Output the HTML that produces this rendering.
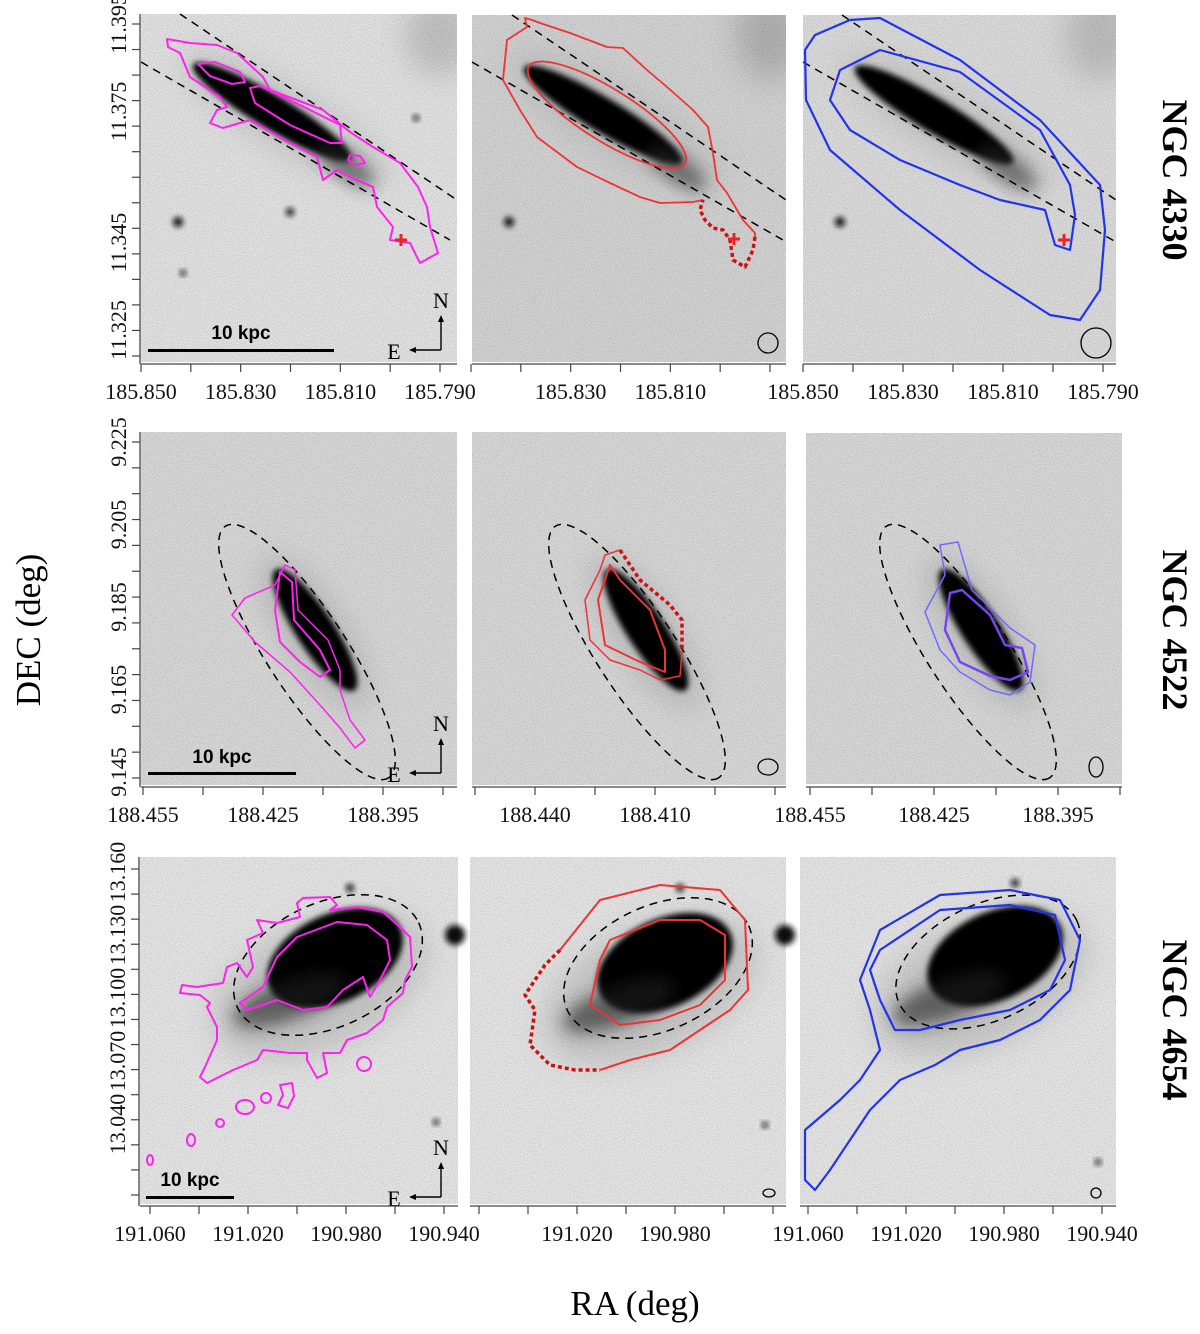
<!DOCTYPE html>
<html><head><meta charset="utf-8"><style>
html,body{margin:0;padding:0;background:#fff;}
svg{display:block;}
text{font-family:"Liberation Serif",serif;}
</style></head><body>
<svg id="fig" width="1200" height="1334" viewBox="0 0 1200 1334" xmlns="http://www.w3.org/2000/svg">
<defs>
<filter id="grain" x="0" y="0" width="100%" height="100%">
<feTurbulence type="fractalNoise" baseFrequency="0.9" numOctaves="1" seed="3" result="n"/>
<feColorMatrix type="matrix" values="0 0 0 0 0  0 0 0 0 0  0 0 0 0 0  0 0 0 -1.6 1.0" in="n" result="a"/>
<feComposite in="a" in2="SourceGraphic" operator="in"/>
</filter>
<filter id="blur3" x="-50%" y="-50%" width="200%" height="200%"><feGaussianBlur stdDeviation="3"/></filter>
<filter id="blur8" x="-50%" y="-50%" width="200%" height="200%"><feGaussianBlur stdDeviation="8"/></filter>
<filter id="blur15" x="-80%" y="-80%" width="260%" height="260%"><feGaussianBlur stdDeviation="15"/></filter>
<clipPath id="c1"><rect x="141" y="14" width="316" height="348"/></clipPath>
<clipPath id="c2"><rect x="472" y="15" width="314" height="347"/></clipPath>
<clipPath id="c3"><rect x="803" y="15" width="313" height="347"/></clipPath>
</defs>

<g>
 <rect x="141" y="14" width="316" height="348" fill="#e3e3e3"/>
 <rect x="472" y="15" width="314" height="347" fill="#d3d3d3"/>
 <rect x="803" y="15" width="313" height="347" fill="#dcdcdc"/>
</g>
<g>
 <rect x="141" y="432" width="316" height="353" fill="#d9d9d9"/>
 <rect x="472" y="432" width="314" height="353" fill="#d9d9d9"/>
 <rect x="806" y="433" width="316" height="351" fill="#d9d9d9"/>
</g>
<g>
 <rect x="140" y="857" width="318" height="347" fill="#e6e6e6"/>
 <rect x="470" y="857" width="316" height="347" fill="#e6e6e6"/>
 <rect x="800" y="857" width="316" height="347" fill="#e6e6e6"/>
</g>

<g opacity="0.45">
 <ellipse cx="440" cy="35" rx="35" ry="40" fill="#999" filter="url(#blur15)" clip-path="url(#c1)"/>
 <ellipse cx="770" cy="35" rx="35" ry="45" fill="#888" filter="url(#blur15)" clip-path="url(#c2)"/>
 <ellipse cx="1100" cy="35" rx="35" ry="45" fill="#999" filter="url(#blur15)" clip-path="url(#c3)"/>
</g>

<g id="galaxies"></g>

<g filter="url(#grain)" opacity="0.2">
 <rect x="141" y="14" width="316" height="348" fill="#000"/><rect x="472" y="15" width="314" height="347" fill="#000"/><rect x="803" y="15" width="313" height="347" fill="#000"/>
 <rect x="141" y="432" width="316" height="353" fill="#000"/><rect x="472" y="432" width="314" height="353" fill="#000"/><rect x="806" y="433" width="316" height="351" fill="#000"/>
 <rect x="140" y="857" width="318" height="347" fill="#000"/><rect x="470" y="857" width="316" height="347" fill="#000"/><rect x="800" y="857" width="316" height="347" fill="#000"/>
</g>

<g fill="none" stroke-linejoin="round">
 <g stroke="#000" stroke-width="1.5" stroke-dasharray="8,6">
  <line x1="180" y1="14" x2="457" y2="200"/><line x1="141" y1="62" x2="450" y2="240"/>
  <line x1="512" y1="15" x2="786" y2="200"/><line x1="472" y1="62" x2="783" y2="240"/>
  <line x1="842" y1="15" x2="1116" y2="200"/><line x1="803" y1="62" x2="1116" y2="242"/>
 </g>
 <path stroke="#ff22ee" stroke-width="2" d="M167,39 L190,43 L217,45 L237,53 L263,77 L270,90 L297,100 L323,110 L350,132 L373,147 L400,163 L418,187 L427,207 L430,227 L438,253 L420,263 L410,243 L390,240 L393,227 L377,207 L373,187 L350,177 L337,170 L323,180 L317,157 L290,143 L250,120 L223,128 L210,123 L217,110 L227,107 L220,97 L190,77 L180,53 L168,47 Z"/>
 <path stroke="#ff22ee" stroke-width="2" d="M198,64 L215,62 L240,72 L245,82 L232,84 L210,76 Z M250,88 L260,86 L300,105 L340,125 L342,143 L330,143 L290,125 L255,103 Z M350,155 L360,156 L365,163 L356,165 L348,160 Z"/>
 <path stroke="#ee3333" stroke-width="1.8" d="M703,200 L693,202 L660,203 L640,197 L610,183 L577,167 L537,137 L520,110 L503,80 L507,40 L527,27 L525,18 L532,20 L540,23 L570,33 L607,47 L623,48 L647,70 L667,87 L693,110 L708,127 L713,153 L717,180 L727,193 L743,220 L755,233 L755,237"/>
 <path stroke="#cc1111" stroke-width="3.5" stroke-dasharray="4,3" d="M755,237 L753,250 L745,267 L733,260 L730,240 L723,230 L713,228 L705,220 L700,210 L703,200"/>
 <ellipse cx="607" cy="115" rx="92" ry="26" transform="rotate(32 607 115)" stroke="#ee3333" stroke-width="1.8"/>
 <path stroke="#2233ee" stroke-width="2.2" d="M815,35 L850,20 L880,18 L960,60 L1040,120 L1100,185 L1105,230 L1100,290 L1080,320 L1050,315 L980,270 L900,210 L830,150 L806,100 L805,50 Z"/>
 <path stroke="#2233ee" stroke-width="2.2" d="M840,70 L880,50 L960,72 L1040,130 L1070,185 L1075,215 L1070,250 L1055,245 L1045,210 L1000,200 L960,185 L900,160 L850,130 L830,100 Z"/>
 <g stroke="#ee2222" stroke-width="3">
  <path d="M395,240 h12 M401,234 v12"/><path d="M728,239 h12 M734,233 v12"/><path d="M1058,240 h12 M1064,234 v12"/>
 </g>

 <g stroke="#000" stroke-width="1.5" stroke-dasharray="8,6">
  <ellipse cx="307" cy="652" rx="150" ry="40" transform="rotate(57 307 652)"/>
  <ellipse cx="637" cy="652" rx="150" ry="40" transform="rotate(57 637 652)"/>
  <ellipse cx="968" cy="652" rx="150" ry="40" transform="rotate(57 968 652)"/>
 </g>
 <path stroke="#ff22ee" stroke-width="1.5" d="M285,565 L295,570 L298,610 L328,640 L340,670 L340,690 L350,720 L365,740 L355,748 L340,728 L320,705 L290,672 L255,642 L232,615 L245,598 L275,585 Z"/>
 <path stroke="#ff22ee" stroke-width="2" d="M280,572 L292,582 L294,620 L320,650 L330,670 L320,677 L300,662 L280,642 L275,610 Z"/>
 <path stroke="#ee3333" stroke-width="1.5" d="M620,550 L605,555 L600,570 L585,600 L590,640 L610,660 L640,670 L660,680 L680,676 L682,652"/>
 <path stroke="#cc1111" stroke-width="3.5" stroke-dasharray="4,3" d="M620,550 L640,580 L670,605 L682,620 L682,652"/>
 <path stroke="#ee3333" stroke-width="2" d="M610,565 L620,580 L650,610 L665,650 L665,672 L640,662 L605,645 L598,600 Z"/>
 <path stroke="#7766ff" stroke-width="1.5" d="M940,545 L958,542 L972,590 L1010,628 L1035,645 L1030,682 L1010,695 L990,690 L960,672 L940,650 L925,612 L945,575 Z"/>
 <path stroke="#7744ee" stroke-width="2.5" d="M950,593 L962,590 L990,615 L1005,645 L1022,648 L1028,672 L1010,680 L990,676 L960,662 L945,630 Z"/>

 <g stroke="#000" stroke-width="1.5" stroke-dasharray="8,6">
  <ellipse cx="328" cy="965" rx="100" ry="62" transform="rotate(-25 328 965)"/>
  <ellipse cx="658" cy="968" rx="100" ry="62" transform="rotate(-25 658 968)"/>
  <ellipse cx="988" cy="962" rx="98" ry="58" transform="rotate(-25 988 962)"/>
 </g>
 <path stroke="#ff22ee" stroke-width="2" d="M303,898 L330,897 L337,905 L330,910 L357,907 L383,912 L400,927 L410,937 L412,967 L405,980 L403,993 L387,1007 L383,1020 L367,1033 L347,1040 L340,1053 L323,1053 L327,1073 L317,1078 L307,1060 L307,1053 L290,1053 L263,1050 L257,1060 L233,1070 L207,1083 L200,1077 L205,1067 L217,1040 L217,1027 L207,1007 L210,1003 L200,995 L180,993 L182,985 L197,987 L223,983 L227,967 L237,963 L247,977 L253,967 L247,940 L263,933 L257,920 L277,923 L300,917 L297,903 Z"/>
 <path stroke="#ff22ee" stroke-width="2" d="M240,1003 L263,987 L277,957 L297,937 L337,922 L367,925 L387,940 L390,960 L380,980 L370,997 L363,977 L343,990 L327,1007 L303,1010 L277,1000 L257,1007 L247,1010 Z"/>
 <g stroke="#ff22ee" stroke-width="2">
  <circle cx="364" cy="1064" r="7"/><ellipse cx="245" cy="1107" rx="9" ry="7"/><ellipse cx="266" cy="1098" rx="5" ry="5"/><path d="M280,1085 L292,1083 L294,1096 L288,1108 L278,1105 L283,1095 Z"/><ellipse cx="220" cy="1123" rx="4" ry="4"/><ellipse cx="191" cy="1140" rx="4" ry="6"/><ellipse cx="150" cy="1160" rx="3" ry="5"/>
 </g>
 <path stroke="#ee3333" stroke-width="2" d="M560,950 L600,900 L660,885 L720,890 L745,920 L748,990 L730,1010 L700,1030 L670,1050 L630,1060 L600,1070"/>
 <path stroke="#cc1111" stroke-width="3.5" stroke-dasharray="4,3" d="M560,950 L545,965 L525,995 L535,1010 L530,1045 L550,1065 L575,1070 L600,1070"/>
 <path stroke="#ee3333" stroke-width="2" d="M610,940 L660,920 L700,920 L725,935 L725,980 L700,1005 L660,1020 L620,1025 L590,1005 L600,960 Z"/>
 <path stroke="#2233ee" stroke-width="2.2" d="M880,930 L940,895 L1010,890 L1060,900 L1080,940 L1070,990 L1040,1020 L1000,1040 L960,1050 L935,1065 L900,1080 L870,1110 L850,1140 L830,1170 L815,1190 L805,1180 L805,1130 L840,1100 L860,1080 L880,1050 L870,1010 L860,980 Z"/>
 <path stroke="#2233ee" stroke-width="2.2" d="M880,950 L940,910 L1010,905 L1055,915 L1065,960 L1050,990 L1010,1010 L960,1020 L920,1030 L895,1030 L880,1000 L870,970 Z"/>
</g>

<g fill="none" stroke="#000" stroke-width="1.3">
 <circle cx="768" cy="343" r="10"/><circle cx="1096" cy="343" r="15"/>
 <ellipse cx="768" cy="767" rx="10" ry="8"/><ellipse cx="1096" cy="767" rx="7" ry="10"/>
 <ellipse cx="769" cy="1193" rx="6" ry="4"/><ellipse cx="1096" cy="1193" rx="5" ry="5"/>
</g>

<g>
 <rect x="148" y="349" width="186" height="3" fill="#000"/>
 <text x="241" y="339" font-weight="bold" font-size="19" text-anchor="middle" style="font-family:'Liberation Sans',sans-serif">10 kpc</text>
 <rect x="148" y="772" width="148" height="3" fill="#000"/>
 <text x="222" y="763" font-weight="bold" font-size="19" text-anchor="middle" style="font-family:'Liberation Sans',sans-serif">10 kpc</text>
 <rect x="146" y="1196" width="88" height="3" fill="#000"/>
 <text x="190" y="1186" font-weight="bold" font-size="19" text-anchor="middle" style="font-family:'Liberation Sans',sans-serif">10 kpc</text>
</g>
<g id="compasses"></g>

<g id="axes" stroke="#444"></g>

<text x="635" y="1315" font-size="35" text-anchor="middle">RA (deg)</text>
<text transform="translate(40 630) rotate(-90)" font-size="35" text-anchor="middle">DEC (deg)</text>
<text transform="translate(1163 180) rotate(90)" font-size="36" font-weight="bold" text-anchor="middle">NGC 4330</text>
<text transform="translate(1163 630) rotate(90)" font-size="36" font-weight="bold" text-anchor="middle">NGC 4522</text>
<text transform="translate(1163 1020) rotate(90)" font-size="36" font-weight="bold" text-anchor="middle">NGC 4654</text>
</svg>
<script>
const r1XLabels = ["185.850","185.830","185.810","185.790"];
const r1XValues = [185.850,185.830,185.810,185.790];
const r1YLabels = ["11.395","11.375","11.345","11.325"];
const r1YValues = [11.395,11.375,11.345,11.325];
const r2XValues = [188.455,188.425,188.395];
const r2XValuesMid = [188.440,188.410];
const r2YLabels = ["9.225","9.205","9.185","9.165","9.145"];
const r2YValues = [9.225,9.205,9.185,9.165,9.145];
const r3XValues = [191.060,191.020,190.980,190.940];
const r3XValuesMid = [191.020,190.980];
const r3YLabels = ["13.160","13.130","13.100","13.070","13.040"];
const r3YValues = [13.160,13.130,13.100,13.070,13.040];

const NS="http://www.w3.org/2000/svg";
const axes=document.getElementById('axes');
function mk(tag,attrs,parent){const e=document.createElementNS(NS,tag);for(const k in attrs)e.setAttribute(k,attrs[k]);(parent||axes).appendChild(e);return e;}
function lin(d0,d1,r0,r1){return v=>r0+(v-d0)/(d1-d0)*(r1-r0);}

const panels=[
 {x0:141,x1:457,yb:362,sx:lin(185.850,185.790,141,440),v0:185.850,v1:185.780,step:0.005,lab:r1XValues},
 {x0:472,x1:786,yb:362,sx:lin(185.850,185.790,471,770),v0:185.850,v1:185.785,step:0.005,lab:[185.830,185.810]},
 {x0:803,x1:1116,yb:362,sx:lin(185.850,185.790,803,1103),v0:185.850,v1:185.785,step:0.005,lab:r1XValues},
 {x0:141,x1:457,yb:785,sx:lin(188.455,188.395,143,383),v0:188.455,v1:188.3775,step:0.0075,lab:r2XValues},
 {x0:472,x1:786,yb:785,sx:lin(188.455,188.395,475,715),v0:188.455,v1:188.3775,step:0.0075,lab:r2XValuesMid},
 {x0:806,x1:1122,yb:785,sx:lin(188.455,188.395,810,1058),v0:188.455,v1:188.380,step:0.0075,lab:r2XValues},
 {x0:140,x1:458,yb:1204,sx:lin(191.060,190.940,150,444),v0:191.060,v1:190.935,step:0.01,lab:r3XValues},
 {x0:470,x1:786,yb:1204,sx:lin(191.060,190.940,479,773),v0:191.060,v1:190.940,step:0.01,lab:r3XValuesMid},
 {x0:800,x1:1116,yb:1204,sx:lin(191.060,190.940,808,1102),v0:191.060,v1:190.935,step:0.01,lab:r3XValues},
];
panels.forEach((p,i)=>{
 const ax=mk('line',{x1:p.x0,y1:p.yb+2,x2:p.x1,y2:p.yb+2,'stroke-width':1.3});
 
 
 const n=Math.round(Math.abs(p.v1-p.v0)/p.step);
 for(let k=0;k<=n;k++){
  const v=p.v0-k*p.step*2; const x=p.sx(v);
  if(x<p.x0-2||x>p.x1+1) continue;
  const t=mk('line',{x1:x,y1:p.yb+2,x2:x,y2:p.yb+10,'stroke-width':1.2});
  
  
 }
 p.lab.forEach(v=>{
  const x=p.sx(v);
  const t=mk('text',{x:x,y:p.yb+37,'font-size':22,'text-anchor':'middle',fill:'#111',stroke:'none'});
  t.textContent=v.toFixed(3);
  
  
 });
});

const yAx=[
 {x:140,y0:14,y1:362,sy:lin(11.395,11.325,24,330),tickStart:24,tickEnd:356,n:13,vals:r1YValues,labs:r1YLabels},
 {x:140,y0:432,y1:785,sy:lin(9.225,9.145,442,772),tickStart:442,tickEnd:778,n:13,vals:r2YValues,labs:r2YLabels},
 {x:139,y0:857,y1:1204,sy:lin(13.160,13.040,872,1124),tickStart:869,tickEnd:1195,n:13,vals:r3YValues,labs:r3YLabels},
];
yAx.forEach(a=>{
 const l=mk('line',{x1:a.x,y1:a.y0,x2:a.x,y2:a.y1+2,'stroke-width':1.3});
 
 
 for(let k=0;k<=a.n;k++){
  const y=a.tickStart+(a.tickEnd-a.tickStart)*k/a.n;
  const t=mk('line',{x1:a.x-8,y1:y,x2:a.x,y2:y,'stroke-width':1.2});
  
  
 }
 a.vals.forEach((v,i)=>{
  const y=a.sy(v);
  const t=mk('text',{transform:`translate(${a.x-14} ${y}) rotate(-90)`,'font-size':22,'text-anchor':'middle',fill:'#111',stroke:'none'});
  t.textContent=a.labs[i];
  
  
 });
});

const gal=document.getElementById('galaxies');
function blob(cx,cy,rx,ry,rot,fill,filt,op){
 const e=mk('ellipse',{cx:cx,cy:cy,rx:rx,ry:ry,transform:`rotate(${rot} ${cx} ${cy})`,fill:fill,filter:`url(#${filt})`,opacity:op},gal);
 
 
}
const r1=[[0,0],[331,3],[662,3]];
r1.forEach(([dx,dy])=>{
 blob(285+dx,118+dy,120,30,31,'#999','blur15',0.35);
 blob(272+dx,112+dy,92,17,31,'#000','blur3',1);
 blob(345+dx,165+dy,35,12,35,'#333','blur8',0.6);
});
[[0],[331],[666]].forEach(([dx])=>{
 blob(315+dx,632,90,30,57,'#888','blur15',0.35);
 blob(315+dx,630,72,19,57,'#000','blur3',1);
});
[[0,0],[330,5],[660,-2]].forEach(([dx,dy])=>{
 blob(320+dx,985+dy,115,62,-25,'#999','blur15',0.4);
 blob(335+dx,958+dy,72,44,-25,'#000','blur3',1);
 blob(290+dx,1000+dy,60,20,-20,'#222','blur8',0.6);
});
const stars=[[178,222,5],[290,212,4],[416,118,3],[183,273,3],[509,222,5],[840,222,5],[455,935,10],[785,935,10],[350,888,4],[680,888,4],[1015,883,4],[436,1122,3],[1098,1162,3],[765,1125,3]];
stars.forEach(s=>{
 const c=mk('circle',{cx:s[0],cy:s[1],r:s[2],fill:'#111',filter:'url(#blur3)'},gal);
 
 
});

const comp=document.getElementById('compasses');
[[441,350],[441,773],[441,1197]].forEach(([x,y])=>{
 const g=mk('g',{},comp);
 
 
 mk('path',{d:`M${x},${y} V${y-33} M${x},${y} H${x-30}`,stroke:'#000','stroke-width':1.4,fill:'none'},g);
 mk('path',{d:`M${x-3},${y-28} L${x},${y-35} L${x+3},${y-28} Z M${x-25},${y-3} L${x-32},${y} L${x-25},${y+3} Z`,fill:'#000'},g);
 const n=mk('text',{x:x,y:y-42,'font-size':22,'text-anchor':'middle'},g); n.textContent='N';
 const e=mk('text',{x:x-47,y:y+9,'font-size':22,'text-anchor':'middle'},g); e.textContent='E';
});
</script>
</body></html>
